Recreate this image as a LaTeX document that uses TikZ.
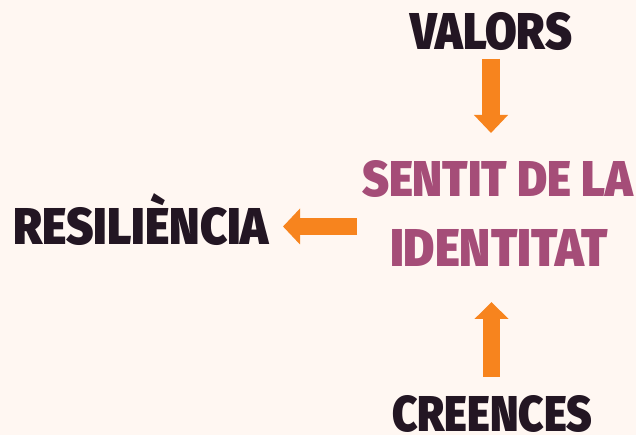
\documentclass[tikz,border=0pt]{standalone}
\usepackage{fontspec}
\usepackage{graphicx}
\usetikzlibrary{arrows.meta}
\newfontfamily\heavy{Fira Sans Black}
\definecolor{bgcol}{HTML}{FFF7F2}
\definecolor{darkcol}{HTML}{231623}
\definecolor{magcol}{HTML}{A54D78}
\definecolor{orcol}{HTML}{F7841E}
\newcommand{\capbox}[1]{\raisebox{0pt}[\fontcharht\font`E][0pt]{#1}}
\newcommand{\fitword}[3]{\resizebox{#1pt}{#2pt}{\heavy\capbox{#3}}}
\tikzset{
  word/.style={anchor=south west, inner sep=0pt, outer sep=0pt},
  darkword/.style={word, text=darkcol},
  magword/.style={word, text=magcol},
  blockarrow/.style={draw=orcol, line width=#1pt, line cap=butt},
}
\begin{document}
\begin{tikzpicture}[x=1pt,y=1pt]
\fill[bgcol] (0,0) rectangle (636,435);
\useasboundingbox (0,0) rectangle (636,435);
% words
\node[darkword] (valors) at (410,385) {\fitword{162}{36}{VALORS}};
\node[darkword] (resiliencia) at (13,190) {\fitword{256}{36}{RESILIÈNCIA}};
\node[magword] (sentit) at (362,238) {\fitword{271}{35}{SENTIT DE LA}};
\node[magword] (identitat) at (390,168) {\fitword{218}{37}{IDENTITAT}};
\node[darkword] (creences) at (392,3.5) {\fitword{200}{35}{CREENCES}};
% arrow end points
\coordinate (vtop) at (491,376);
\coordinate (vtip) at (491,302);
\coordinate (ltail) at (357,208.5);
\coordinate (ltip) at (283,208.5);
\coordinate (ctail) at (491.5,58);
\coordinate (ctip) at (491.5,133);
% arrows
\draw[blockarrow=18, -{Triangle[width=33pt,length=18pt]}] (vtop) -- (vtip);
\draw[blockarrow=17, -{Triangle[width=35pt,length=17pt]}] (ltail) -- (ltip);
\draw[blockarrow=17, -{Triangle[width=33pt,length=17pt]}] (ctail) -- (ctip);
\end{tikzpicture}
\end{document}
